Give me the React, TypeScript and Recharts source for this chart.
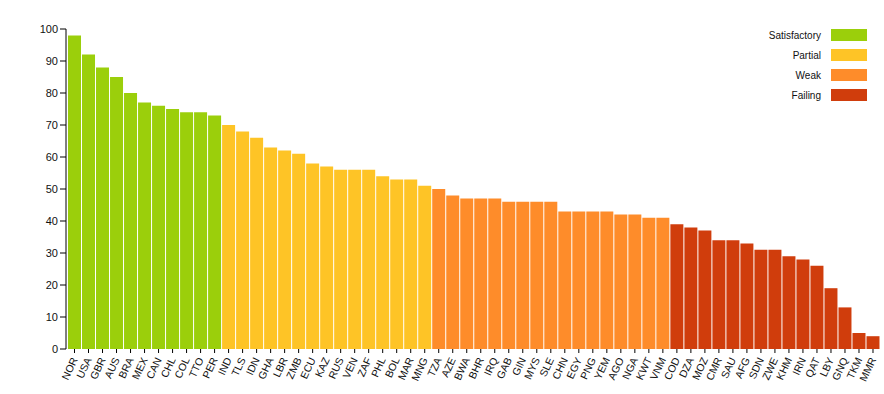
import { Bar, BarChart, Cell, XAxis, YAxis } from "recharts";

const countries = [
  "NOR", "USA", "GBR", "AUS", "BRA", "MEX", "CAN", "CHL", "COL", "TTO", "PER",
  "IND", "TLS", "IDN", "GHA", "LBR", "ZMB", "ECU", "KAZ", "RUS", "VEN", "ZAF", "PHL", "BOL", "MAR", "MNG",
  "TZA", "AZE", "BWA", "BHR", "IRQ", "GAB", "GIN", "MYS", "SLE", "CHN", "EGY", "PNG", "YEM", "AGO", "NGA", "KWT", "VNM",
  "COD", "DZA", "MOZ", "CMR", "SAU", "AFG", "SDN", "ZWE", "KHM", "IRN", "QAT", "LBY", "GNQ", "TKM", "MMR",
];

const scores = [
  98, 92, 88, 85, 80, 77, 76, 75, 74, 74, 73,
  70, 68, 66, 63, 62, 61, 58, 57, 56, 56, 56, 54, 53, 53, 51,
  50, 48, 47, 47, 47, 46, 46, 46, 46, 43, 43, 43, 43, 42, 42, 41, 41,
  39, 38, 37, 34, 34, 33, 31, 31, 29, 28, 26, 19, 13, 5, 4,
];

const ratings = ["Satisfactory", "Partial", "Weak", "Failing"];
// how many countries fall in each rating, in the order above
const ratingCounts = [11, 15, 17, 15];
const ratingColors = ["#9bcf0b", "#fec426", "#fe8c2a", "#d03d0c"];

const yTicks = [0, 10, 20, 30, 40, 50, 60, 70, 80, 90, 100];

const ratingOf = ratingCounts.flatMap((n, i) => Array(n).fill(i));
const data = countries.map((c, i) => ({ country: c, score: scores[i], rating: ratingOf[i] }));

const font = "'Liberation Sans', Arial, Helvetica, sans-serif";

function CountryTick({ x, y, payload }: any) {
  return (
    <g transform={`translate(${x},${y + 3})`}>
      <text
        transform="rotate(-65)"
        textAnchor="end"
        dy="0.35em"
        fontSize={10.5}
        fill="#111"
        fontFamily={font}
      >
        {payload.value}
      </text>
    </g>
  );
}

function RatingLegend() {
  return (
    <div
      style={{
        position: "absolute",
        top: 25,
        right: 17,
        fontFamily: font,
        fontSize: 10,
        color: "#111",
      }}
    >
      {ratings.map((r, i) => (
        <div key={r} style={{ display: "flex", alignItems: "center", justifyContent: "flex-end", height: 20 }}>
          <span style={{ marginRight: 10 }}>{r}</span>
          <span style={{ width: 36, height: 12, background: ratingColors[i] }} />
        </div>
      ))}
    </div>
  );
}

export default function App() {
  return (
    <div style={{ position: "absolute", left: 0, top: 0, width: 884, height: 394, background: "#fff" }}>
      <BarChart
        width={884}
        height={394}
        data={data}
        margin={{ top: 29, right: 4, left: 0, bottom: 0 }}
        barCategoryGap={0.5}
      >
        <XAxis
          dataKey="country"
          interval={0}
          height={45}
          axisLine={false}
          tickLine={{ stroke: "#000" }}
          tickSize={4}
          padding={{ left: 1.5, right: 0 }}
          tick={<CountryTick />}
        />
        <YAxis
          domain={[0, 100]}
          ticks={yTicks}
          width={66}
          axisLine={{ stroke: "#000" }}
          tickLine={{ stroke: "#000" }}
          tickSize={6}
          tick={{ fontSize: 11, fill: "#111", fontFamily: font }}
        />
        <Bar dataKey="score" isAnimationActive={false}>
          {data.map((d) => (
            <Cell key={d.country} fill={ratingColors[d.rating]} />
          ))}
        </Bar>
      </BarChart>
      <RatingLegend />
    </div>
  );
}
